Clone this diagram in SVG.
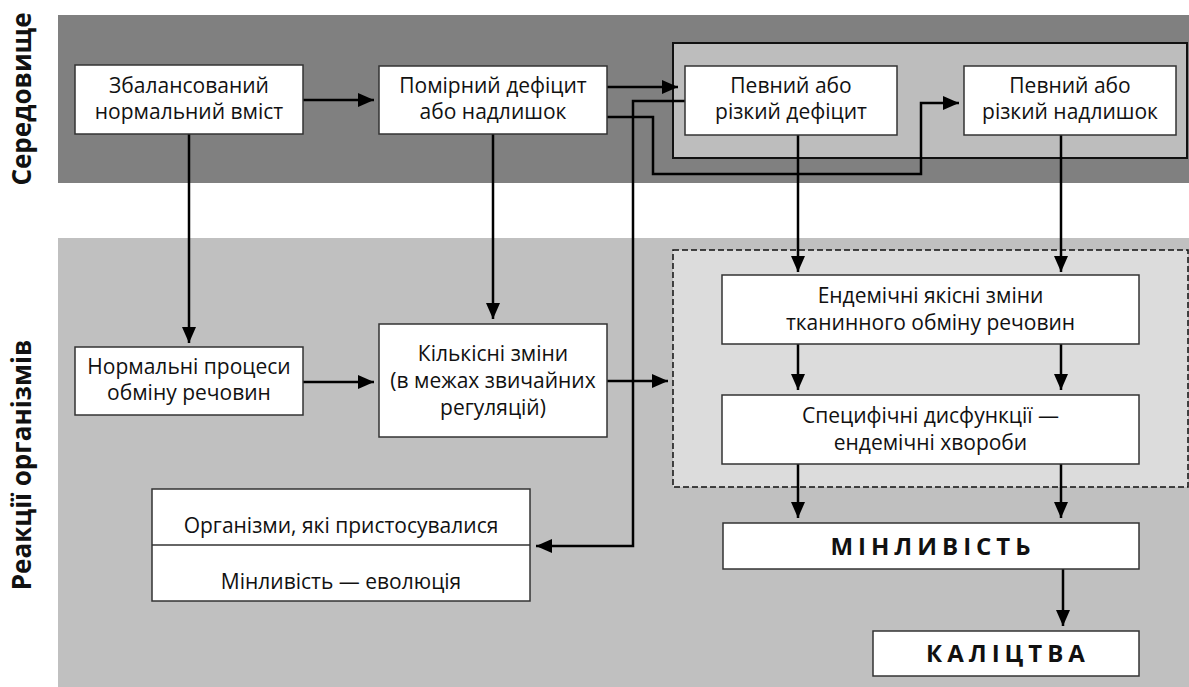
<svg xmlns="http://www.w3.org/2000/svg" width="1189" height="687" viewBox="0 0 1189 687">
<defs>
<style>
.t{font-family:"Open Sans","Noto Sans","DejaVu Sans",sans-serif;font-size:21px;fill:#111;text-anchor:middle}
.b{font-family:"Open Sans","Noto Sans","DejaVu Sans",sans-serif;font-size:24px;font-weight:bold;fill:#111;text-anchor:middle;letter-spacing:5px}
.v{font-family:"Open Sans","Noto Sans","DejaVu Sans",sans-serif;font-size:26px;font-weight:bold;fill:#111;text-anchor:middle}
.box{fill:#fff;stroke:#333;stroke-width:1.5}
.c{fill:none;stroke:#000;stroke-width:2.5;marker-end:url(#ah)}
</style>
<marker id="ah" markerUnits="userSpaceOnUse" markerWidth="16" markerHeight="14" refX="16" refY="7" orient="auto">
<path d="M0,0 L16,7 L0,14 z" fill="#000"/>
</marker>
</defs>
<g id="bands">
<rect x="58" y="15" width="1131" height="168" fill="#808080"/>
<rect x="58" y="238" width="1131" height="449" fill="#c0c0c0"/>
<text class="v" transform="translate(31,99) rotate(-90)">Середовище</text>
<text class="v" transform="translate(31,465) rotate(-90)">Реакції організмів</text>
</g>
<g id="group-severe">
<rect x="673" y="43" width="514" height="115" fill="#bdbdbd" stroke="#111" stroke-width="2"/>
</g>
<g id="group-endemic">
<rect x="673" y="250" width="515" height="237" fill="#dcdcdc" stroke="#111" stroke-width="1.5" stroke-dasharray="6,3"/>
</g>
<g id="connectors">
<path class="c" d="M302,100 H374"/>
<path class="c" d="M607,87 H678"/>
<path class="c" d="M685,101 H633 V546 H536"/>
<path class="c" d="M607,117 H653 V174 H921 V103 H959"/>
<path class="c" d="M189,134 V343"/>
<path class="c" d="M493,134 V319"/>
<path class="c" d="M303,382 H374"/>
<path class="c" d="M607,381 H668"/>
<path class="c" d="M798,135 V272"/>
<path class="c" d="M1061,135 V272"/>
<path class="c" d="M798,344 V390"/>
<path class="c" d="M1061,344 V390"/>
<path class="c" d="M798,464 V518"/>
<path class="c" d="M1061,464 V518"/>
<path class="c" d="M1063,569 V626"/>
</g>
<g id="n-balanced">
<rect class="box" x="75" y="65" width="228" height="69"/>
<text class="t" x="189" y="93">Збалансований</text>
<text class="t" x="189" y="119">нормальний вміст</text>
</g>
<g id="n-moderate">
<rect class="box" x="379" y="66" width="228" height="68"/>
<text class="t" x="493" y="93">Помірний дефіцит</text>
<text class="t" x="493" y="119">або надлишок</text>
</g>
<g id="n-deficit">
<rect class="box" x="685" y="66" width="212" height="69"/>
<text class="t" x="791" y="93">Певний або</text>
<text class="t" x="791" y="119">різкий дефіцит</text>
</g>
<g id="n-excess">
<rect class="box" x="964" y="66" width="212" height="69"/>
<text class="t" x="1070" y="93">Певний або</text>
<text class="t" x="1070" y="119">різкий надлишок</text>
</g>
<g id="n-normal">
<rect class="box" x="75" y="347" width="228" height="68"/>
<text class="t" x="189" y="374">Нормальні процеси</text>
<text class="t" x="189" y="400">обміну речовин</text>
</g>
<g id="n-quant">
<rect class="box" x="379" y="324" width="228" height="113"/>
<text class="t" x="493" y="361">Кількісні зміни</text>
<text class="t" x="493" y="388">(в межах звичайних</text>
<text class="t" x="493" y="415">регуляцій)</text>
</g>
<g id="n-endemic">
<rect class="box" x="722" y="275" width="417" height="69"/>
<text class="t" x="930.5" y="303">Ендемічні якісні зміни</text>
<text class="t" x="930.5" y="330">тканинного обміну речовин</text>
</g>
<g id="n-dysfunction">
<rect class="box" x="722" y="395" width="417" height="69"/>
<text class="t" x="930.5" y="423">Специфічні дисфункції —</text>
<text class="t" x="930.5" y="450">ендемічні хвороби</text>
</g>
<g id="n-variability">
<rect class="box" x="723" y="523" width="416" height="46"/>
<text class="b" x="933" y="555">МІНЛИВІСТЬ</text>
</g>
<g id="n-disability">
<rect class="box" x="873" y="631" width="266" height="45"/>
<text class="b" x="1008" y="662">КАЛІЦТВА</text>
</g>
<g id="n-adapted">
<rect class="box" x="152" y="489" width="378" height="112"/>
<line x1="152" y1="545" x2="530" y2="545" stroke="#333" stroke-width="1.5"/>
<text class="t" x="341" y="533">Організми, які пристосувалися</text>
<text class="t" x="341" y="589">Мінливість — еволюція</text>
</g>
</svg>
